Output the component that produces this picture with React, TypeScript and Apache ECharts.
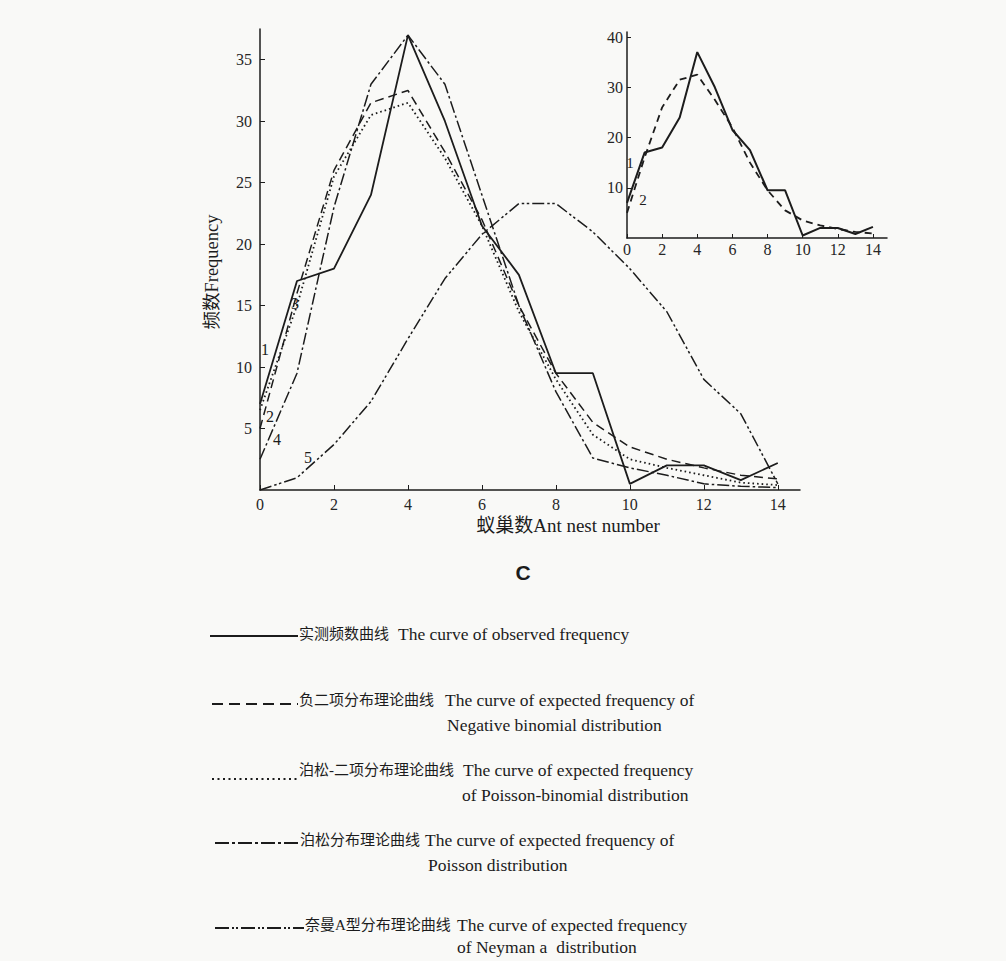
import React, { useEffect, useRef } from "react";
import * as echarts from "echarts";

// ---- data ----
const nestNumbers = [0, 1, 2, 3, 4, 5, 6, 7, 8, 9, 10, 11, 12, 13, 14];
const observed = [7, 17, 18, 24, 37, 30, 21.5, 17.5, 9.5, 9.5, 0.5, 2, 2, 0.8, 2.2];
const negBinomial = [5, 16, 26, 31.5, 32.5, 27.5, 22, 15, 9.5, 5.5, 3.5, 2.5, 1.8, 1.2, 0.9];
const poissonBinomial = [6.5, 15, 25.5, 30.5, 31.5, 27, 21.5, 14.5, 9, 4.5, 2.5, 1.8, 1.2, 0.6, 0.4];
const poisson = [2.5, 9.5, 23, 33, 37, 33, 24, 15, 8, 2.6, 1.8, 1.2, 0.5, 0.3, 0.2];
const neymanA = [0, 1, 3.7, 7.2, 12.3, 17.2, 20.8, 23.3, 23.3, 21, 18, 14.5, 9, 6.2, 0.5];

const mainXTicks = [0, 2, 4, 6, 8, 10, 12, 14];
const mainYTicks = [5, 10, 15, 20, 25, 30, 35];
const insetXTicks = [0, 2, 4, 6, 8, 10, 12, 14];
const insetYTicks = [10, 20, 30, 40];

const yAxisTitle = "频数Frequency";
const xAxisTitle = "蚁巢数Ant nest number";
const panelLabel = "C";

const legendCn = [
  "实测频数曲线",
  "负二项分布理论曲线",
  "泊松-二项分布理论曲线",
  "泊松分布理论曲线",
  "奈曼A型分布理论曲线",
];
const legendEn1 = [
  "The curve of observed frequency",
  "The curve of expected frequency of",
  "The curve of expected frequency",
  "The curve of expected frequency of",
  "The curve of expected frequency",
];
const legendEn2 = [
  "",
  "Negative binomial distribution",
  "of Poisson-binomial distribution",
  "Poisson distribution",
  "of Neyman a  distribution",
];

const INK = "#1c1c1c";
const SERIF = '"Liberation Serif", "Noto Sans CJK SC", serif';

const pairs = (vals: number[]) => nestNumbers.map((n, i) => [n, vals[i]]);

const dashObserved: any = "solid";
const dashNB = [9, 5];
const dashPB = [1.6, 3];
const dashPoisson = [12, 3, 2.5, 3];
const dashNeyman = [12, 3, 2.5, 2.5, 2.5, 3];

function lineSeries(name: string, vals: number[], type: any, width: number, xi: number) {
  return {
    type: "line",
    name,
    xAxisIndex: xi,
    yAxisIndex: xi,
    data: pairs(vals),
    symbol: "none",
    lineStyle: { color: INK, width, type },
    z: 3,
  };
}

function buildOption(): any {
  const txt = (text: string, x: number, y: number, size: number, extra: any = {}) => ({
    type: "text",
    x,
    y,
    style: {
      text,
      fontSize: size,
      fontFamily: SERIF,
      fill: INK,
      verticalAlign: "middle",
      align: "left",
      ...extra,
    },
  });

  const legendRows = [
    { y: 634, ly: 636, x1: 210, x2: 298, dash: null, cx: 299, ex: 398, e2x: 0, w: 2.2 },
    { y: 700, ly: 704, x1: 212, x2: 298, dash: [11, 6], cx: 299, ex: 445, e2x: 447, w: 2 },
    { y: 770, ly: 779, x1: 212, x2: 298, dash: [2, 3.5], cx: 299, ex: 463, e2x: 462, w: 2.2 },
    { y: 840, ly: 843, x1: 215, x2: 300, dash: [14, 3, 3, 3], cx: 300, ex: 425, e2x: 428, w: 2 },
    { y: 925, ly: 928, x1: 215, x2: 304, dash: [14, 3, 2, 2, 2, 3], cx: 305, ex: 457, e2x: 457, w: 2 },
  ];

  const graphics: any[] = [];
  legendRows.forEach((r, i) => {
    graphics.push({
      type: "line",
      shape: { x1: r.x1, y1: r.ly, x2: r.x2, y2: r.ly },
      style: { stroke: INK, lineWidth: r.w, lineDash: r.dash || undefined },
    });
    graphics.push(txt(legendCn[i], r.cx, r.y, 15));
    graphics.push(txt(legendEn1[i], r.ex, r.y, 17.5));
    if (legendEn2[i]) graphics.push(txt(legendEn2[i], r.e2x, r.y + (i === 4 ? 22 : 25), 17.5));
  });

  // axis titles and panel label
  graphics.push({
    type: "text",
    x: 212,
    y: 272,
    rotation: Math.PI / 2,
    style: { text: yAxisTitle, fontSize: 18.5, fontFamily: SERIF, fill: INK, align: "center", verticalAlign: "middle" },
  });
  graphics.push(txt(xAxisTitle, 568, 525, 19, { align: "center" }));
  graphics.push({
    type: "text",
    x: 523,
    y: 572,
    style: { text: panelLabel, fontSize: 21, fontFamily: '"Liberation Sans", sans-serif', fontWeight: "bold", fill: INK, align: "center", verticalAlign: "middle" },
  });

  // curve number annotations (main)
  const ann = [
    ["1", 265, 349], ["2", 270, 416], ["3", 295, 303], ["4", 277, 439], ["5", 308, 457],
  ];
  ann.forEach(([t, x, y]) => graphics.push(txt(t as string, x as number, y as number, 16, { align: "center" })));
  // curve number annotations (inset)
  graphics.push(txt("1", 630, 163, 15, { align: "center" }));
  graphics.push(txt("2", 643, 200, 15, { align: "center" }));

  const axisLbl = { fontSize: 16, fontFamily: SERIF, color: "#262626" };

  return {
    animation: false,
    backgroundColor: "#f9f9f7",
    grid: [
      { left: 260, top: 29, width: 540, height: 461 },
      { left: 627, top: 32, width: 260, height: 206 },
    ],
    xAxis: [
      {
        type: "value",
        gridIndex: 0,
        min: 0,
        max: 14.6,
        axisLine: { show: true, onZero: false, lineStyle: { color: INK, width: 1.5 } },
        axisTick: { show: true, inside: true, length: 5, customValues: mainXTicks, lineStyle: { color: INK } },
        axisLabel: { ...axisLbl, margin: 6, customValues: mainXTicks },
        splitLine: { show: false },
      },
      {
        type: "value",
        gridIndex: 1,
        min: 0,
        max: 14.8,
        axisLine: { show: true, onZero: false, lineStyle: { color: INK, width: 1.5 } },
        axisTick: { show: true, inside: true, length: 4, customValues: insetXTicks, lineStyle: { color: INK } },
        axisLabel: { ...axisLbl, margin: 3, customValues: insetXTicks },
        splitLine: { show: false },
      },
    ],
    yAxis: [
      {
        type: "value",
        gridIndex: 0,
        min: 0,
        max: 37.5,
        axisLine: { show: true, onZero: false, lineStyle: { color: INK, width: 1.5 } },
        axisTick: { show: true, inside: true, length: 5, customValues: mainYTicks, lineStyle: { color: INK } },
        axisLabel: { ...axisLbl, margin: 8, customValues: mainYTicks },
        splitLine: { show: false },
      },
      {
        type: "value",
        gridIndex: 1,
        min: 0,
        max: 41,
        axisLine: { show: true, onZero: false, lineStyle: { color: INK, width: 1.5 } },
        axisTick: { show: true, inside: true, length: 4, customValues: insetYTicks, lineStyle: { color: INK } },
        axisLabel: { ...axisLbl, margin: 4, customValues: insetYTicks },
        splitLine: { show: false },
      },
    ],
    series: [
      lineSeries("实测频数曲线", observed, dashObserved, 1.8, 0),
      lineSeries("负二项分布理论曲线", negBinomial, dashNB, 1.5, 0),
      lineSeries("泊松-二项分布理论曲线", poissonBinomial, dashPB, 1.8, 0),
      lineSeries("泊松分布理论曲线", poisson, dashPoisson, 1.5, 0),
      lineSeries("奈曼A型分布理论曲线", neymanA, dashNeyman, 1.5, 0),
      lineSeries("实测频数曲线 inset", observed, dashObserved, 2, 1),
      lineSeries("负二项分布理论曲线 inset", negBinomial, [7, 5], 1.8, 1),
    ],
    graphic: graphics,
  };
}

export default function App() {
  const ref = useRef<HTMLDivElement>(null);
  useEffect(() => {
    if (!ref.current) return;
    const chart = echarts.init(ref.current, null, { renderer: "svg" });
    chart.setOption(buildOption());
    return () => chart.dispose();
  }, []);
  return (
    <div
      ref={ref}
      style={{ position: "absolute", left: 0, top: 0, width: 1006, height: 961 }}
    />
  );
}
